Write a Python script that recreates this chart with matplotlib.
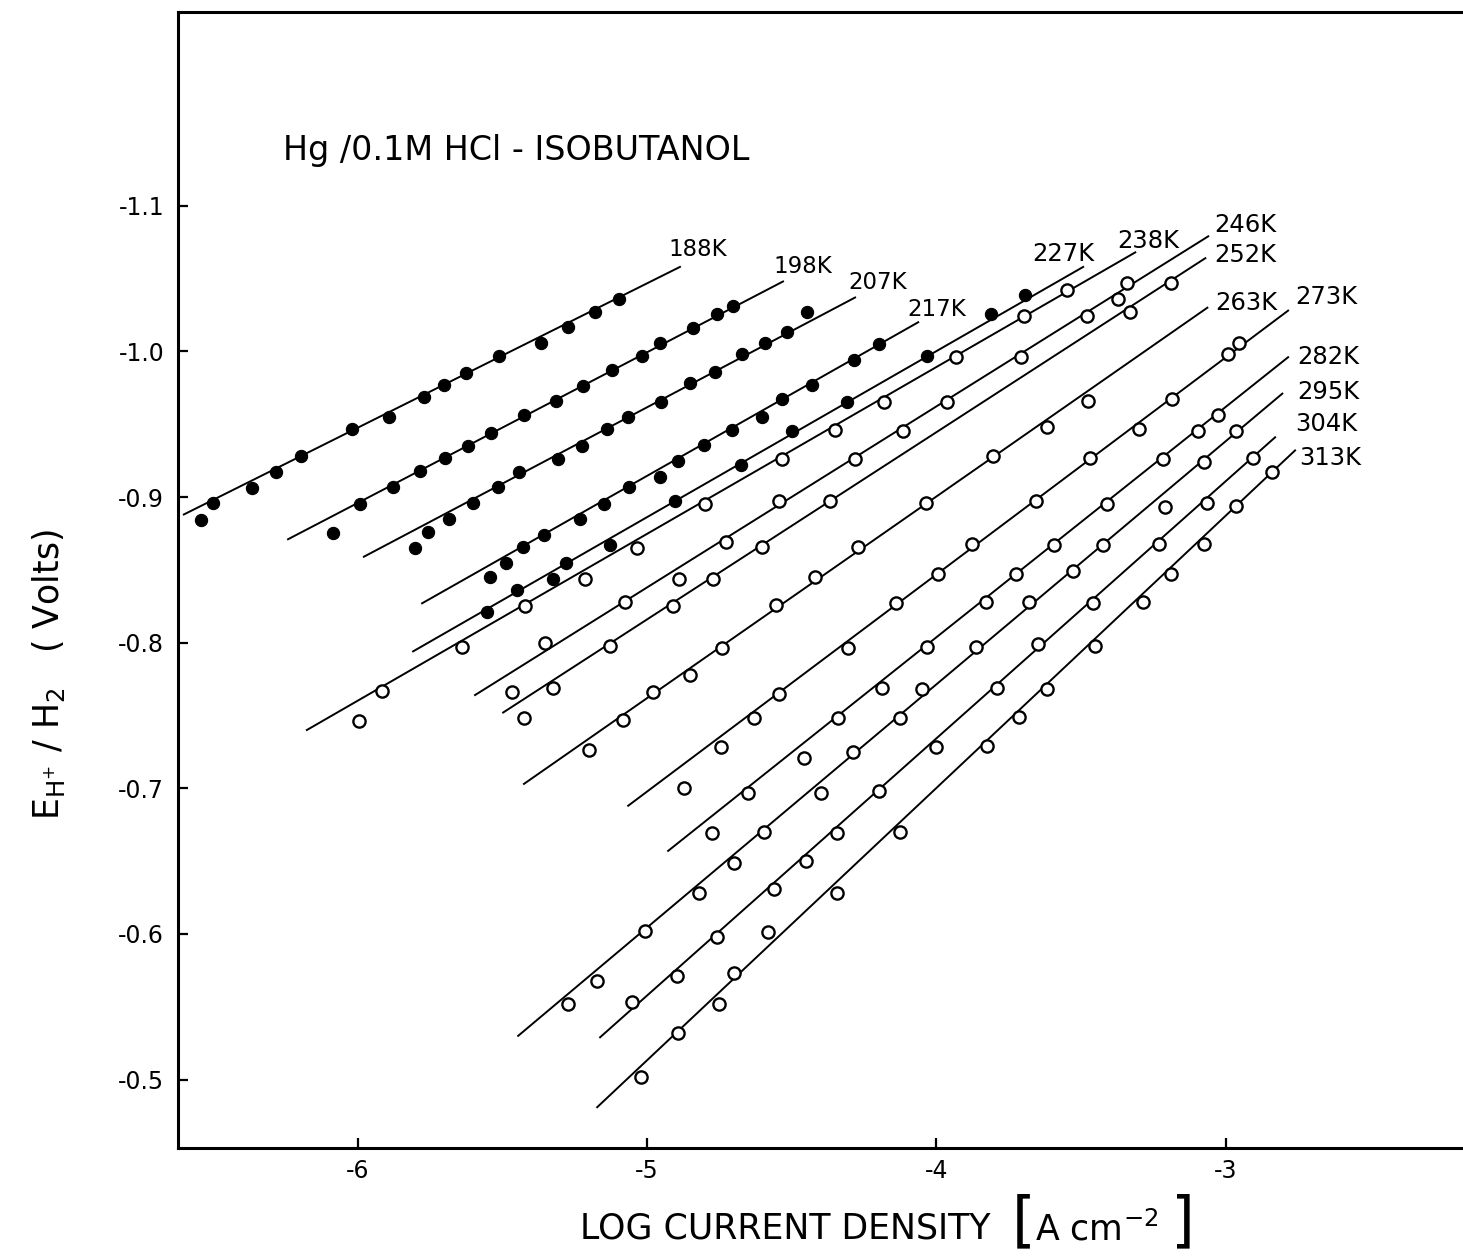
import matplotlib
matplotlib.use('Agg')
import matplotlib.pyplot as plt

plt.rcParams['font.family'] = 'DejaVu Sans'
plt.rcParams['axes.unicode_minus'] = False
plt.rcParams['mathtext.fontset'] = 'dejavusans'

# --- data (log i in A cm^-2, E in V) ---
temps = [188, 198, 207, 217, 227, 238, 246, 252, 263, 273, 282, 295, 304, 313]

x_188 = [-6.541, -6.499, -6.365, -6.282, -6.195, -6.019, -5.891, -5.770, -5.701, -5.625, -5.511, -5.366, -5.273, -5.179, -5.097]
y_188 = [-0.884, -0.896, -0.906, -0.917, -0.928, -0.947, -0.955, -0.969, -0.977, -0.985, -0.997, -1.006, -1.017, -1.027, -1.036]

x_198 = [-6.085, -5.991, -5.877, -5.784, -5.698, -5.618, -5.539, -5.425, -5.314, -5.221, -5.121, -5.017, -4.955, -4.841, -4.758, -4.703]
y_198 = [-0.875, -0.895, -0.907, -0.918, -0.927, -0.935, -0.944, -0.956, -0.966, -0.976, -0.987, -0.997, -1.006, -1.016, -1.026, -1.031]

x_207 = [-5.801, -5.756, -5.684, -5.601, -5.515, -5.442, -5.307, -5.224, -5.138, -5.065, -4.951, -4.851, -4.765, -4.672, -4.592, -4.516, -4.447]
y_207 = [-0.865, -0.876, -0.885, -0.896, -0.907, -0.917, -0.926, -0.935, -0.947, -0.955, -0.965, -0.978, -0.986, -0.998, -1.006, -1.013, -1.027]

x_217 = [-5.542, -5.487, -5.428, -5.356, -5.231, -5.148, -5.062, -4.955, -4.893, -4.803, -4.706, -4.602, -4.533, -4.430, -4.285, -4.198]
y_217 = [-0.845, -0.855, -0.866, -0.874, -0.885, -0.895, -0.907, -0.914, -0.925, -0.936, -0.946, -0.955, -0.967, -0.977, -0.994, -1.005]

x_227 = [-5.553, -5.449, -5.325, -5.280, -5.128, -4.903, -4.675, -4.499, -4.309, -4.032, -3.811, -3.694]
y_227 = [-0.821, -0.836, -0.844, -0.855, -0.867, -0.897, -0.922, -0.945, -0.965, -0.997, -1.026, -1.039]

x_238 = [-5.995, -5.915, -5.639, -5.421, -5.214, -5.034, -4.799, -4.533, -4.350, -4.181, -3.932, -3.697, -3.549]
y_238 = [-0.746, -0.767, -0.797, -0.825, -0.844, -0.865, -0.895, -0.926, -0.946, -0.965, -0.996, -1.024, -1.042]

x_246 = [-5.352, -5.076, -4.889, -4.727, -4.544, -4.281, -4.115, -3.963, -3.708, -3.480, -3.372, -3.341]
y_246 = [-0.800, -0.828, -0.844, -0.869, -0.897, -0.926, -0.945, -0.965, -0.996, -1.024, -1.036, -1.047]

x_252 = [-5.466, -5.425, -5.325, -5.128, -4.910, -4.772, -4.602, -4.368, -3.331, -3.189]
y_252 = [-0.766, -0.748, -0.769, -0.798, -0.825, -0.844, -0.866, -0.897, -1.027, -1.047]

x_263 = [-5.200, -5.083, -4.979, -4.851, -4.741, -4.554, -4.419, -4.271, -4.036, -3.804, -3.618, -3.476]
y_263 = [-0.726, -0.747, -0.766, -0.778, -0.796, -0.826, -0.845, -0.866, -0.896, -0.928, -0.948, -0.966]

x_273 = [-4.872, -4.744, -4.630, -4.544, -4.305, -4.140, -3.994, -3.877, -3.656, -3.469, -3.300, -3.186, -2.992, -2.954]
y_273 = [-0.700, -0.728, -0.748, -0.765, -0.796, -0.827, -0.847, -0.868, -0.897, -0.927, -0.947, -0.967, -0.998, -1.006]

x_282 = [-4.775, -4.651, -4.457, -4.340, -4.188, -4.032, -3.829, -3.725, -3.594, -3.411, -3.217, -3.096, -3.027]
y_282 = [-0.669, -0.697, -0.721, -0.748, -0.769, -0.797, -0.828, -0.847, -0.867, -0.895, -0.926, -0.945, -0.956]

x_295 = [-5.273, -5.173, -5.007, -4.820, -4.699, -4.596, -4.399, -4.288, -4.126, -4.050, -3.863, -3.680, -3.528, -3.424, -3.210, -3.075, -2.965]
y_295 = [-0.552, -0.568, -0.602, -0.628, -0.649, -0.670, -0.697, -0.725, -0.748, -0.768, -0.797, -0.828, -0.849, -0.867, -0.893, -0.924, -0.945]

x_304 = [-5.052, -4.896, -4.758, -4.561, -4.450, -4.343, -4.198, -4.001, -3.791, -3.649, -3.459, -3.231, -3.065, -2.906]
y_304 = [-0.553, -0.571, -0.598, -0.631, -0.650, -0.669, -0.698, -0.728, -0.769, -0.799, -0.827, -0.868, -0.896, -0.927]

x_313 = [-5.021, -4.893, -4.751, -4.699, -4.582, -4.343, -4.126, -3.825, -3.715, -3.618, -3.452, -3.286, -3.189, -3.075, -2.965, -2.840]
y_313 = [-0.502, -0.532, -0.552, -0.573, -0.601, -0.628, -0.670, -0.729, -0.749, -0.768, -0.798, -0.828, -0.847, -0.868, -0.894, -0.917]

points_x = [x_188, x_198, x_207, x_217, x_227, x_238, x_246, x_252, x_263, x_273, x_282, x_295, x_304, x_313]
points_y = [y_188, y_198, y_207, y_217, y_227, y_238, y_246, y_252, y_263, y_273, y_282, y_295, y_304, y_313]

# fitted Tafel lines (start / end)
fit_x0 = [-6.60, -6.240, -5.978, -5.777, -5.808, -6.175, -5.594, -5.497, -5.425, -5.065, -4.927, -5.445, -5.162, -5.172]
fit_y0 = [-0.888, -0.871, -0.859, -0.827, -0.794, -0.740, -0.764, -0.752, -0.703, -0.688, -0.657, -0.530, -0.529, -0.481]
fit_x1 = [-4.886, -4.530, -4.281, -4.063, -3.493, -3.313, -3.061, -3.071, -3.064, -2.785, -2.785, -2.805, -2.830, -2.761]
fit_y1 = [-1.058, -1.048, -1.037, -1.020, -1.058, -1.068, -1.079, -1.064, -1.030, -1.028, -0.996, -0.971, -0.941, -0.932]

# temperature label anchors (left edge, centre)
lab_x = [-4.927, -4.564, -4.305, -4.101, -3.670, -3.376, -3.041, -3.041, -3.037, -2.761, -2.754, -2.754, -2.761, -2.747]
lab_y = [-1.070, -1.058, -1.047, -1.029, -1.067, -1.076, -1.087, -1.066, -1.033, -1.037, -0.996, -0.972, -0.950, -0.927]

x_ticks = [-6, -5, -4, -3]
y_ticks = [-1.1, -1.0, -0.9, -0.8, -0.7, -0.6, -0.5]

fig = plt.figure(figsize=(14.63, 12.56), dpi=100)
ax = fig.add_axes([0.1217, 0.0860, 0.9036, 0.9044])

for i, T in enumerate(temps):
    ax.plot([fit_x0[i], fit_x1[i]], [fit_y0[i], fit_y1[i]], color='black', linewidth=1.4, zorder=2)
    if T <= 227:
        ax.plot(points_x[i], points_y[i], linestyle='none', marker='o', markersize=8.8,
                markerfacecolor='black', markeredgecolor='black', markeredgewidth=0.8, zorder=3)
    else:
        ax.plot(points_x[i], points_y[i], linestyle='none', marker='o', markersize=8.8,
                markerfacecolor='white', markeredgecolor='black', markeredgewidth=1.7, zorder=3)
    fs = 16.5 if T <= 217 else 17.5
    ax.text(lab_x[i], lab_y[i], f'{T}K', fontsize=fs, ha='left', va='center')

ax.text(-6.257, -1.138, 'Hg /0.1M HCl - ISOBUTANOL', fontsize=24, ha='left', va='center')

ax.set_xlim(-6.620, -2.053)
ax.set_ylim(-0.453, -1.233)
ax.set_xticks(x_ticks)
ax.set_xticklabels([str(v) for v in x_ticks])
ax.set_yticks(y_ticks)
ax.set_yticklabels([f'{v:.1f}' for v in y_ticks])
ax.tick_params(axis='both', direction='in', length=7, width=1.6, labelsize=17)
ax.tick_params(axis='x', pad=8)
ax.tick_params(axis='y', pad=10)
for side in ['left', 'bottom', 'top', 'right']:
    ax.spines[side].set_linewidth(2.2)

# x axis title, bracket drawn large as in the original
fig.text(0.5366, 0.0215, 'LOG CURRENT DENSITY', fontsize=25, ha='center', va='center')
fig.text(0.700, 0.026, '[', fontsize=44, ha='center', va='center')
fig.text(0.7075, 0.0215, r'A cm$^{-2}$', fontsize=25, ha='left', va='center')
fig.text(0.8086, 0.026, ']', fontsize=44, ha='center', va='center')

fig.text(0.033, 0.4626, r'$\mathrm{E_{H^{+}}\ /\ H_{2}}$   ( Volts)', fontsize=25,
         rotation=90, ha='center', va='center')

fig.savefig('out.png', dpi=100)
